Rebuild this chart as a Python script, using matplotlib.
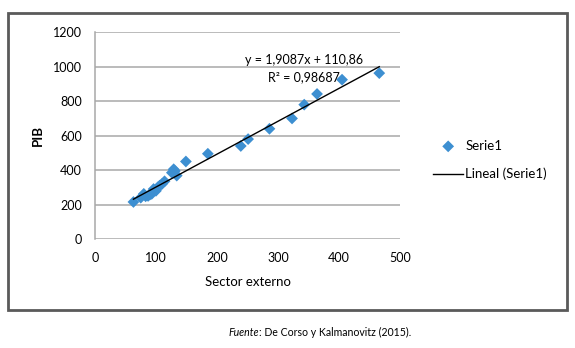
import matplotlib
matplotlib.use("Agg")
import matplotlib.pyplot as plt
from matplotlib.patches import Rectangle
import numpy as np

plt.rcParams['font.family'] = ['Lato', 'DejaVu Sans']

# Data
sector_externo = [63, 75, 80, 83, 87, 90, 93, 96, 100, 103, 106, 110, 114,
                  126, 129, 131, 134, 149, 185, 239, 251, 286, 323, 343,
                  364, 405, 466]
pib = [215, 240, 262, 248, 250, 258, 262, 290, 280, 300, 310, 320, 335,
       385, 405, 395, 368, 450, 495, 540, 580, 640, 700, 780,
       842, 925, 963]
slope, intercept = 1.9087, 110.86
eq_label = "y = 1,9087x + 110,86"
r2_label = "R² = 0,98687"
x_ticks = [0, 100, 200, 300, 400, 500]
y_ticks = [0, 200, 400, 600, 800, 1000, 1200]

W, H = 575, 348
fig = plt.figure(figsize=(W / 100, H / 100), dpi=100)
ax = fig.add_axes([95 / W, 1 - 239 / H, 305 / W, (239 - 32.3) / H])

ax.scatter(sector_externo, pib, marker='D', s=36, color='#3d8fd1',
           edgecolors='none', zorder=3, label='Serie1')
xt = np.array([min(sector_externo), max(sector_externo)])
ax.plot(xt, slope * xt + intercept, color='black', lw=1.0, zorder=4,
        label='Lineal (Serie1)')

ax.set_xlim(0, 500)
ax.set_ylim(0, 1200)
ax.set_xticks(x_ticks)
ax.set_yticks(y_ticks)
ax.yaxis.grid(True, color='#a8a8a8', lw=1.1)
ax.set_axisbelow(True)
for s in ['top', 'right', 'bottom']:
    ax.spines[s].set_visible(False)
ax.spines['left'].set_color('#a8a8a8')
ax.spines['left'].set_linewidth(1.1)
ax.tick_params(length=0, labelsize=9, pad=9.5, colors='black')

ax.set_xlabel('Sector externo', fontsize=9.5)
ax.xaxis.set_label_coords(0.5, (239 - 282) / 206.7)
ax.xaxis.label.set_verticalalignment('center')
ax.set_ylabel('PIB', fontsize=9.5, fontweight='bold')
ax.yaxis.set_label_coords((38 - 95) / 305, 0.5)
ax.yaxis.label.set_verticalalignment('center')

ax.text(342, 1037, eq_label, ha='center', va='center', fontsize=9)
ax.text(342, 941, r2_label, ha='center', va='center', fontsize=9)

leg = ax.legend(loc='center left', bbox_to_anchor=(433 / W, 1 - 160 / H),
                bbox_transform=fig.transFigure, frameon=False, fontsize=9.5,
                handlelength=2.3, handletextpad=0.15, labelspacing=1.2,
                borderpad=0, borderaxespad=0)

# outer border
fig.patches.append(Rectangle((8 / W, 1 - 310 / H), 559 / W, 297 / H,
                             transform=fig.transFigure, fill=False,
                             edgecolor='#5a5a5a', lw=2))

# source note
fig.canvas.draw()
r = fig.canvas.get_renderer()
t1 = fig.text(0, 1 - 332 / H, 'Fuente', style='italic', fontsize=7.6,
              ha='left', va='center')
t2 = fig.text(0, 1 - 332 / H, ': De Corso y Kalmanovitz (2015).', fontsize=7.6,
              ha='left', va='center')
w1 = t1.get_window_extent(r).width
w2 = t2.get_window_extent(r).width
x0 = 320 - (w1 + w2) / 2
t1.set_x(x0 / W)
t2.set_x((x0 + w1) / W)

fig.savefig('out.png', dpi=100)
